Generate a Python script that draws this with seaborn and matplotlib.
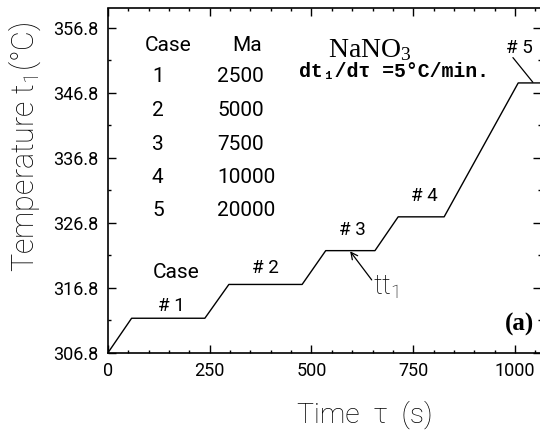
import matplotlib
matplotlib.use("Agg")
import matplotlib.pyplot as plt
from matplotlib.ticker import MultipleLocator, FixedLocator
import pandas as pd
import seaborn as sns

# Heating programme of the NaNO3 sample: ramps at 5 °C/min separated by holds
time_s = [0, 58, 238, 297, 477, 535, 656, 713, 826, 1008, 1090]
temp_c = [306.8, 312.1, 312.1, 317.3, 317.3, 322.5, 322.5, 327.7, 327.7, 348.3, 348.3]

# Marangoni numbers of the five cases
case_ids = ["1", "2", "3", "4", "5"]
ma_values = ["2500", "5000", "7500", "10000", "20000"]

# Step labels placed on each hold
step_labels = ["# 1", "# 2", "# 3", "# 4", "# 5"]
step_t = [156, 386, 600, 777, 1010]
step_T = [314.0, 319.8, 325.7, 330.9, 353.7]

y_ticks = [306.8, 316.8, 326.8, 336.8, 346.8, 356.8]
x_ticks = [0, 250, 500, 750, 1000]

sns.set_theme(style="ticks")
plt.rcParams["font.family"] = ["Roboto", "DejaVu Sans"]
plt.rcParams["mathtext.fontset"] = "custom"

ink = "black"
sans = ["Roboto", "DejaVu Sans"]
body_weight = "normal"
label_weight = "light"

fig = plt.figure(figsize=(5.4, 4.34), dpi=100)
fig.patch.set_facecolor("white")
ax = fig.add_axes([108 / 540, (434 - 352.7) / 434, (541 - 108) / 540, (352.7 - 8.5) / 434])
ax.set_facecolor("white")

df = pd.DataFrame({"time": time_s, "temp": temp_c})
sns.lineplot(data=df, x="time", y="temp", sort=False, color="black", linewidth=1.0, ax=ax)

ax.set_xlim(0, 1064)
ax.set_ylim(306.8, 359.75)
ax.xaxis.set_major_locator(FixedLocator(x_ticks))
ax.xaxis.set_minor_locator(MultipleLocator(50))
ax.yaxis.set_major_locator(FixedLocator(y_ticks))
ax.yaxis.set_minor_locator(FixedLocator([v + 5 for v in y_ticks]))
ax.set_yticklabels([f"{v:.1f}" for v in y_ticks])

for s in ax.spines.values():
    s.set_color("black")
    s.set_linewidth(1.2)

ax.tick_params(which="both", direction="in", top=True, right=True, colors="black",
               labelcolor=ink, width=1.0)
ax.tick_params(which="major", length=5.5, labelsize=13, pad=7)
ax.tick_params(which="minor", length=2.5)
for lab in ax.get_xticklabels() + ax.get_yticklabels():
    lab.set_family(sans)
    lab.set_fontweight(body_weight)

ax.set_xlabel("Time  τ  (s)", fontsize=20.5, color=ink, family=sans,
              fontweight=label_weight)
ax.set_ylabel(r"Temperature t$\mathregular{_1}$(°C)", fontsize=22, color=ink,
              family=sans, fontweight=label_weight)
ax.xaxis.set_label_coords(0.594, -0.138)
ax.yaxis.set_label_coords(-0.15, 0.598)

# Table of cases
ax.text(147.4, 354.0, "Case", ha="center", va="center", fontsize=15, color=ink,
        family=sans, fontweight=body_weight)
ax.text(341.5, 354.0, "Ma", ha="center", va="center", fontsize=15, color=ink,
        family=sans, fontweight=body_weight)
row_T = [349.26, 344.03, 338.86, 333.72, 328.6]
for cid, ma, yT in zip(case_ids, ma_values, row_T):
    ax.text(108, yT, cid, ha="left", va="center", fontsize=15, color=ink,
            family=sans, fontweight=body_weight)
    ax.text(268, yT, ma, ha="left", va="center", fontsize=15, color=ink,
            family=sans, fontweight=body_weight)

ax.text(167, 319.1, "Case", ha="center", va="center", fontsize=15, color=ink,
        family=sans, fontweight=body_weight)
for lab, tx, ty in zip(step_labels, step_t, step_T):
    ax.text(tx, ty, lab, ha="center", va="center", fontsize=13.5, color=ink,
            family=sans, fontweight=body_weight)

# Leader line for the last hold
ax.plot([995, 1044], [352.2, temp_c[-1] + 0.1], color="black", linewidth=0.9)

# Arrow pointing at the measured temperature
ax.annotate("", xy=(595, temp_c[5] - 0.1), xytext=(648, 318.0),
            arrowprops=dict(arrowstyle="->", color="black", lw=0.9,
                            shrinkA=0, shrinkB=0, mutation_scale=12))
ax.text(651, 316.9, r"tt$\mathregular{_1}$", ha="left", va="center", fontsize=20,
        color=ink, family=sans, fontweight=label_weight)

ax.text(644, 353.4, r"NaNO$\mathregular{_3}$", ha="center", va="center", fontsize=20,
        color="black", family=["Liberation Serif", "DejaVu Serif"])
ax.text(703, 350.0, "dt₁/dτ =5°C/min.", ha="center", va="center", fontsize=14.3,
        color="black", family=["Liberation Mono", "DejaVu Sans Mono"], fontweight="bold")
ax.text(1047, 311.2, "(a)", ha="right", va="center", fontsize=18, color="black",
        family=["Liberation Serif", "DejaVu Serif"], fontweight="bold")

fig.savefig("out.png", dpi=100, facecolor="white")
